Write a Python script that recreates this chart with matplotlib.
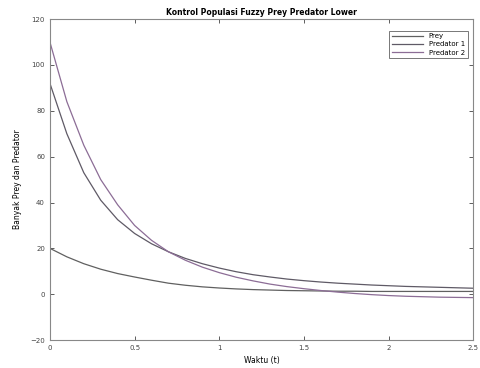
import numpy as np
import matplotlib.pyplot as plt

# time samples and estimated populations
t = [0.0, 0.1, 0.2, 0.3, 0.4, 0.5, 0.6, 0.7, 0.8, 0.9, 1.0, 1.1, 1.2,
     1.3, 1.4, 1.5, 1.6, 1.7, 1.8, 1.9, 2.0, 2.1, 2.2, 2.3, 2.4, 2.5]
prey = [20, 16.3, 13.3, 10.9, 9.0, 7.5, 6.1, 4.8, 3.9, 3.2, 2.7, 2.3, 2.0,
        1.8, 1.6, 1.5, 1.4, 1.3, 1.3, 1.2, 1.2, 1.2, 1.2, 1.2, 1.2, 1.2]
predator1 = [92, 70, 53, 41, 32.5, 26.5, 22, 18.5, 15.6, 13.3, 11.4, 9.8, 8.5,
             7.5, 6.6, 5.9, 5.3, 4.8, 4.4, 4.0, 3.7, 3.4, 3.2, 3.0, 2.8, 2.6]
predator2 = [110, 84, 65, 50, 39, 30, 23.5, 18.5, 14.8, 11.8, 9.4, 7.4, 5.8,
             4.4, 3.3, 2.4, 1.6, 0.9, 0.3, -0.2, -0.6, -0.9, -1.1, -1.3, -1.4, -1.5]

xticks = [0, 0.5, 1, 1.5, 2, 2.5]
yticks = [-20, 0, 20, 40, 60, 80, 100, 120]

fig = plt.figure(figsize=(4.8, 3.68), dpi=100)
ax = fig.add_axes([0.104, 0.076, 0.882, 0.872])

ax.plot(t, prey, color="#606060", lw=0.9, label="Prey")
ax.plot(t, predator1, color="#5f5a66", lw=0.9, label="Predator 1")
ax.plot(t, predator2, color="#8c6d96", lw=0.9, label="Predator 2")

ax.set_xlim(0, 2.5)
ax.set_ylim(-20, 120)
ax.set_xticks(xticks)
ax.set_yticks(yticks)
ax.set_xticklabels(["0", "0.5", "1", "1.5", "2", "2.5"])
ax.tick_params(direction="in", labelsize=5, length=3, width=0.6,
               top=True, right=True, colors="#444444")
for s in ax.spines.values():
    s.set_color("#888888")
    s.set_linewidth(0.8)

ax.set_title("Kontrol Populasi Fuzzy Prey Predator Lower", fontsize=5.5,
             fontweight="bold", pad=3)
ax.set_xlabel("Waktu (t)", fontsize=5.5, labelpad=4)
ax.set_ylabel("Banyak Prey dan Predator", fontsize=5.5, labelpad=6)

leg = ax.legend(loc="upper right", fontsize=5, frameon=True, fancybox=False,
                borderpad=0.4, handlelength=4.5, labelspacing=0.3,
                bbox_to_anchor=(0.995, 0.975))
leg.get_frame().set_edgecolor("#555555")
leg.get_frame().set_linewidth(0.7)

fig.savefig("out.png", dpi=100)
